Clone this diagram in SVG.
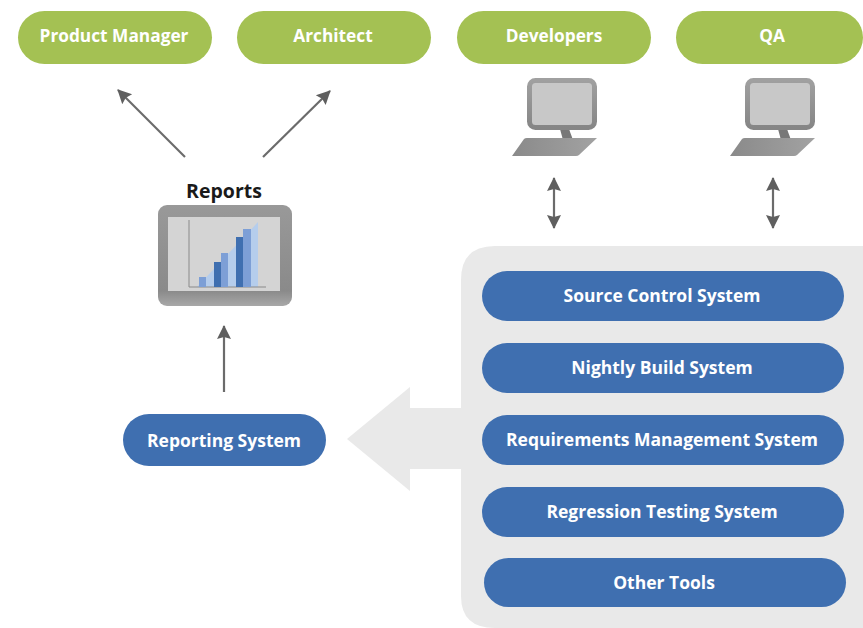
<svg xmlns="http://www.w3.org/2000/svg" width="863" height="628" viewBox="0 0 863 628">
<style>
text{font-family:"Open Sans","Liberation Sans",sans-serif;font-weight:700;text-anchor:middle;font-size:17.5px;fill:#fff}
.g{fill:#a4c153}.b{fill:#3f6fb0}
.c{fill:none;stroke:#6b6b6b;stroke-width:2.2}
.mon{fill:#c8c8c8;stroke:url(#fr);stroke-width:5}
.kb{fill:url(#kbg)}.st{fill:#787878}
</style>
<defs>
<linearGradient id="fr" x1="0" y1="0" x2="0" y2="1"><stop offset="0" stop-color="#a0a0a0"/><stop offset="1" stop-color="#868686"/></linearGradient>
<linearGradient id="kbg" x1="0" y1="0" x2="1" y2="0"><stop offset="0" stop-color="#8a8a8a"/><stop offset="1" stop-color="#a2a2a2"/></linearGradient>
<linearGradient id="rf" x1="0" y1="0" x2="0" y2="1"><stop offset="0" stop-color="#999"/><stop offset="0.85" stop-color="#8a8a8a"/><stop offset="1" stop-color="#a8a8a8"/></linearGradient>
<marker id="a" markerUnits="userSpaceOnUse" markerWidth="16" markerHeight="16" refX="13" refY="8" orient="auto-start-reverse"><path d="M0 1L14 8L0 15L2 8Z" fill="#5f5f5f"/></marker>
<g id="pc">
<path d="M33 51h9l4 11h-10z" class="st"/>
<rect x="2.500" y="2.500" width="65" height="47" rx="6" class="mon"/>
<path d="M-15 78L-3 61Q-2 60 0 60H70L52 77Q51 78 49 78Z" class="kb"/>
</g>
</defs>
<rect width="863" height="628" fill="#fff"/>
<g id="panel"><path d="M863 246H495Q461 246 461 280V596Q461 628 495 628H863Z" fill="#e9e9e9"/></g>
<g id="big-arrow"><path d="M461 408H410V387L347 439L410 491V469H461Z" fill="#e9e9e9"/></g>
<g id="connectors">
<path class="c" d="M185 157L118 90" marker-end="url(#a)"/>
<path class="c" d="M263 157L330 91" marker-end="url(#a)"/>
<path class="c" d="M224 392V326" marker-end="url(#a)"/>
<path class="c" d="M554 178V228" marker-start="url(#a)" marker-end="url(#a)"/>
<path class="c" d="M773 178V228" marker-start="url(#a)" marker-end="url(#a)"/>
</g>
<g id="product-manager"><rect class="g" x="18" y="11" width="194" height="53" rx="26.500"/><text x="114" y="42" style="font-size:17.300px">Product Manager</text></g>
<g id="architect"><rect class="g" x="237" y="11" width="194" height="53" rx="26.500"/><text x="333" y="42" style="font-size:17.300px">Architect</text></g>
<g id="developers"><rect class="g" x="457" y="11" width="194" height="53" rx="26.500"/><text x="554" y="42" style="font-size:17.300px">Developers</text></g>
<g id="qa"><rect class="g" x="676" y="11" width="187" height="53" rx="26.500"/><text x="772" y="42" style="font-size:17.300px">QA</text></g>
<g id="developers-pc"><use href="#pc" x="527" y="78"/></g>
<g id="qa-pc"><use href="#pc" x="745" y="78"/></g>
<g id="reports">
<text x="224" y="198" style="fill:#1a1a1a;font-size:19.500px">Reports</text>
<rect x="158" y="205" width="134" height="101" rx="9" fill="url(#rf)"/>
<rect x="168" y="217" width="112" height="74" fill="#d4d4d4"/>
<path d="M197 287L258 222V287Z" fill="#b5cdec"/>
<path d="M189 220V287H266" fill="none" stroke="#8a8a8a" stroke-width="1"/>
<rect x="199" y="277" width="7" height="10" fill="#7d9fd6"/>
<rect x="214" y="262" width="7" height="25" fill="#3f6fb0"/><rect x="221" y="253" width="7" height="34" fill="#7d9fd6"/>
<rect x="236" y="237" width="7" height="50" fill="#3f6fb0"/><rect x="243" y="229" width="8" height="58" fill="#7d9fd6"/>
</g>
<g id="reporting-system"><rect class="b" x="123" y="414" width="203" height="52" rx="26"/><text x="224" y="447">Reporting System</text></g>
<g id="source-control"><rect class="b" x="482" y="271" width="362" height="50" rx="25"/><text x="662" y="302">Source Control System</text></g>
<g id="nightly-build"><rect class="b" x="482" y="343" width="362" height="50" rx="25"/><text x="662" y="374">Nightly Build System</text></g>
<g id="requirements"><rect class="b" x="482" y="415" width="362" height="50" rx="25"/><text x="662" y="446">Requirements Management System</text></g>
<g id="regression"><rect class="b" x="482" y="487" width="362" height="50" rx="25"/><text x="662" y="518">Regression Testing System</text></g>
<g id="other-tools"><rect class="b" x="484" y="558" width="362" height="49" rx="24.500"/><text x="664" y="589">Other Tools</text></g>
</svg>
